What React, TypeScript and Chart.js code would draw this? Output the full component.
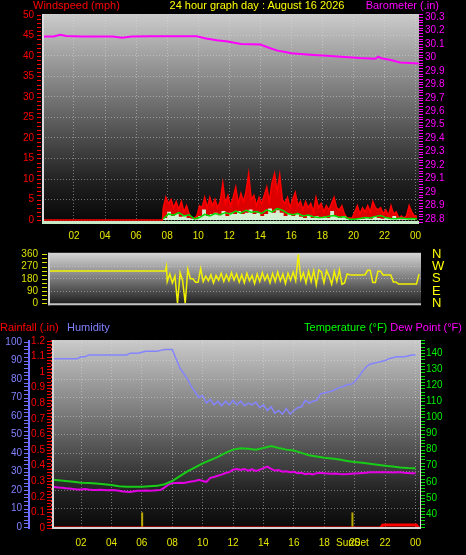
import React, { useEffect, useRef } from 'react';
import { Chart, registerables } from 'chart.js';
Chart.register(...registerables);

const FONT = '"Liberation Sans", Arial, sans-serif';
const GRID = 'rgba(225,225,225,0.45)';

// ---------- shared time axis ----------
const hourTickValues = [2, 4, 6, 8, 10, 12, 14, 16, 18, 20, 22, 24];
const hourTickLabels = ['02', '04', '06', '08', '10', '12', '14', '16', '18', '20', '22', '00'];
const sunriseHour = 6.02;
const sunsetHour = 19.85;
const sunsetLabel = 'SunSet';

// ---------- panel 1 : wind speed / barometer ----------
const windTicks = [0, 5, 10, 15, 20, 25, 30, 35, 40, 45, 50];
const baroTicks = [28.8, 28.9, 29.0, 29.1, 29.2, 29.3, 29.4, 29.5, 29.6, 29.7, 29.8, 29.9, 30.0, 30.1, 30.2, 30.3];
const baroHours = [0, 0.7, 1.1, 1.5, 2.5, 4.5, 5.1, 5.7, 7, 8.5, 9.9, 10.5, 11.2, 11.9, 12.75, 14, 14.6, 15.1, 15.6, 16, 17.2, 18.5, 19.2, 20.4, 21.4, 21.6, 21.8, 22.4, 23, 23.6, 24.2];
const baroValues = [30.155, 30.155, 30.168, 30.158, 30.155, 30.155, 30.145, 30.155, 30.157, 30.157, 30.156, 30.14, 30.127, 30.117, 30.1, 30.095, 30.07, 30.05, 30.04, 30.03, 30.02, 30.01, 30.005, 29.995, 29.99, 30.005, 29.993, 29.98, 29.962, 29.958, 29.955];

const gustCalmHours = [0, 7.7];
const gustCalmValues = [0, 0];
const gustStartHour = 7.75;
const gustStepHours = 1 / 6;
const gustValues = [
  3, 5.5, 4, 5, 3, 4.5, 2.5, 4.5, 2, 3.5,
  1.5, 0.5, 0.5, 1, 3.5, 3, 5.5, 3, 5.5, 3.5,
  5, 3, 4.5, 9, 4, 6, 3.5, 5.5, 8, 4,
  6.5, 4.5, 7, 11.3, 5, 6, 3.5, 5.5, 4, 6,
  8, 4.5, 9, 11.3, 7, 11, 5, 4, 5.5, 3,
  5, 6.7, 3.5, 4.5, 2.5, 4.5, 3, 4, 2, 5.5,
  3, 4, 2, 3.5, 2.5, 4, 5.5, 3, 2.5, 3.5,
  1.5, 0.5, 0.5, 0.5, 2, 3.5, 1.5, 3, 2, 3.5,
  2, 4.5, 3, 2.5, 3, 1.5, 2.5, 1, 3.5, 1.5,
  2, 0.5, 1, 0.5, 1, 3.5, 2, 1, 1,
];

const avgWindStartHour = 7.75;
const avgWindStepHours = 1 / 3;
const avgWindValues = [
  0.3, 1.5, 1.2, 1.8, 1.0, 1.3, 0.3, 0.6, 1.4, 1.0,
  1.6, 1.3, 1.8, 1.5, 2.2, 1.7, 2.4, 1.9, 2.1, 1.6,
  2.5, 2.0, 2.8, 2.4, 1.6, 1.3, 1.6, 1.0, 1.2, 0.8,
  0.6, 0.7, 0.9, 1.1, 0.7, 0.8, 0.2, 0.2, 0.4, 0.6,
  0.5, 0.9, 1.1, 0.6, 0.4, 0.3, 0.5, 0.3, 0.4, 0.3,
];

const windSpeedStartHour = 7.75;
const windSpeedStepHours = 0.25;
const windSpeedValues = [
  0.5, 2.0, 1.0, 1.5, 0.8, 1.2, 0.5, 0.3, 0.2, 1.0,
  2.6, 1.0, 1.5, 1.8, 1.2, 2.2, 1.0, 1.8, 1.5, 2.2,
  1.5, 1.8, 2.6, 1.5, 1.8, 1.0, 1.5, 2.8, 1.8, 2.4,
  1.8, 1.0, 1.5, 1.0, 1.5, 0.8, 0.5, 1.0, 0.5, 1.0,
  0.5, 0.8, 0.5, 2.2, 1.0, 0.5, 1.0, 0.3, 0.2, 0.2,
  0.5, 0.3, 0.5, 0.3, 0.8, 0.5, 0.3, 0.5, 0.3, 1.0,
  0.3, 0.2, 0.3, 0.2, 0.3, 0.3,
];

// ---------- panel 2 : wind direction ----------
const dirTicks = [0, 90, 180, 270, 360];
const compassLabels = ['N', 'E', 'S', 'W', 'N'];
const dirCalmHours = [0, 7.55, 7.62];
const dirCalmValues = [237, 237, 270];
const dirStartHour = 7.67;
const dirStepHours = 1 / 6;
const dirValues = [
  160, 215, 150, 200, 0, 225, 165, 0, 250, 180,
  180, 155, 155, 255, 160, 200, 165, 210, 150, 205,
  170, 220, 160, 210, 165, 225, 170, 215, 155, 210,
  150, 220, 165, 205, 145, 215, 160, 225, 170, 210,
  150, 220, 160, 230, 165, 215, 145, 220, 170, 230,
  165, 360, 175, 225, 150, 235, 160, 240, 135, 245,
  230, 150, 240, 200, 140, 235, 160, 245, 140, 150,
  215, 210, 208, 208, 208, 208, 208, 210, 242, 242,
  152, 152, 236, 236, 208, 208, 208, 208, 157, 157,
  141, 141, 141, 141, 141, 141, 141, 141, 214,
];

// ---------- panel 3 : rain / humidity / temperature / dew point ----------
const humidityTicks = [0, 10, 20, 30, 40, 50, 60, 70, 80, 90, 100];
const rainTicks = [0, 0.1, 0.2, 0.3, 0.4, 0.5, 0.6, 0.7, 0.8, 0.9, 1.0, 1.1, 1.2];
const tempTicks = [40, 50, 60, 70, 80, 90, 100, 110, 120, 130, 140];

const humidityStepHours = 0.25;
const humidityValues = [
  91, 91, 91, 91, 91, 91, 91, 91,
  92, 92, 93, 93, 93, 93, 93, 93, 93, 93, 93, 93, 93,
  94, 94, 94, 94.5, 95, 95, 95, 95, 95.5, 96, 96,
  96, 91, 86, 83, 80, 76, 73, 70, 71, 67, 69, 66, 68, 65.5, 68, 66, 68.5, 66, 68, 65.5,
  67, 66, 67.5, 64.5, 66, 63, 65, 61.5, 63, 61, 64, 61, 63, 64.5, 65, 68.5, 67, 68, 68.5,
  72, 72.5, 73, 73.5, 74.5, 75.5, 76, 77, 77, 78.5, 81, 84, 86.5, 88, 88.5, 89, 89.5,
  90, 91, 91.5, 92, 92, 92, 92.5, 93, 93,
];

const tempStepHours = 0.5;
const tempValues = [
  61.3, 61, 60.5, 60, 59.5, 59.3, 59, 58.5, 58, 57.3,
  57, 57, 57, 57.2, 57.5, 58.5, 60.5, 63.5, 66.5, 69,
  71.5, 73.5, 75.5, 78, 80, 80.8, 80.5, 80, 81, 82.2,
  81, 80, 79.5, 78, 76.5, 75.7, 75, 74.5, 73.8, 73,
  72.3, 71.8, 71.2, 70.6, 70, 69.5, 68.9, 68.6, 68.5,
];

const dewStepHours = 0.25;
const dewValues = [
  57.0, 56.8, 56.5, 56.3, 56, 55.8, 55.5, 55.3,
  55.3, 55.5, 55.2, 55, 55, 55.1, 55, 54.8,
  54.9, 54.8, 54.5, 54, 53.8, 53.7, 54.2, 54.5,
  54.5, 54.6, 54.5, 54.6, 54.8, 55, 56.5, 58.3,
  59.2, 59.3, 59.4, 59.3, 59.8, 60.2, 60.5, 61.3,
  60.5, 60, 62.5, 63, 63.8, 64.5, 65.5, 66,
  67.5, 68, 67.3, 68, 67, 67.8, 66.8, 67.6,
  68.5, 69.5, 68, 67, 67.3, 66.3, 66.6, 65.9,
  66.2, 65.3, 65.6, 64.8, 65.2, 64.6, 65.4, 65.7,
  65.4, 65.2, 65.0, 65.1, 64.8, 64.7, 64.8, 65.0,
  65.2, 65.3, 65.5, 65.7, 65.9, 66, 66, 65.9,
  65.9, 66, 65.8, 65.9, 65.9, 65.6, 65.5, 65.4,
  65.3,
];

const rainHours = [0, 21.7, 21.85, 24.05, 24.2];
const rainValues = [0, 0, 0.02, 0.02, 0];
const sunMarkerRain = [0, 0.1];

// ---------- helpers ----------
const series = (start: number, step: number, values: number[]) =>
  values.map((y, i) => ({ x: start + i * step, y }));
const pairs = (xs: number[], ys: number[]) => xs.map((x, i) => ({ x, y: ys[i] }));
const fmt = (v: number) => String(Number(Number(v).toFixed(2)));
const font = (size: number) => ({ family: FONT, size });
const setTicks = (vals: number[]) => (s: any) => {
  s.ticks = vals.map((v) => ({ value: v }));
};
const hourLabel = (v: number) => {
  if (v === sunsetHour) return sunsetLabel;
  const i = hourTickValues.indexOf(v);
  return i >= 0 ? hourTickLabels[i] : '';
};
const NOGRID = { display: false, drawTicks: false };

const panelPlugin = {
  id: 'panel',
  beforeDraw(chart: any, _a: any, opts: any) {
    const { ctx, chartArea: a } = chart;
    if (!a) return;
    const g = ctx.createLinearGradient(0, a.top, 0, a.bottom);
    (opts.stops || []).forEach((s: [number, string]) => g.addColorStop(s[0], s[1]));
    ctx.save();
    ctx.fillStyle = g;
    ctx.fillRect(a.left, a.top, a.right - a.left, a.bottom - a.top);
    ctx.restore();
  },
  afterDraw(chart: any, _a: any, opts: any) {
    const { ctx, chartArea: a } = chart;
    ctx.save();
    (opts.edges || []).forEach((e: any) => {
      ctx.strokeStyle = e.color;
      ctx.lineWidth = e.width;
      ctx.setLineDash([]);
      const h = e.width / 2;
      ctx.beginPath();
      if (e.side === 'left') { ctx.moveTo(a.left + h, a.top); ctx.lineTo(a.left + h, a.bottom); }
      if (e.side === 'right') { ctx.moveTo(a.right - h, a.top); ctx.lineTo(a.right - h, a.bottom); }
      if (e.side === 'bottom') { ctx.moveTo(a.left, a.bottom - h); ctx.lineTo(a.right, a.bottom - h); }
      ctx.stroke();
    });
    (opts.axisLines || []).forEach((l: any) => {
      const s = chart.scales[l.scale];
      const x = s.position === 'left' ? s.right - l.width / 2 - (l.offset || 0) : s.left + l.width / 2 + (l.offset || 0);
      ctx.strokeStyle = l.color;
      ctx.lineWidth = l.width;
      ctx.setLineDash(l.dash || []);
      ctx.beginPath();
      ctx.moveTo(x, a.top);
      ctx.lineTo(x, a.bottom);
      ctx.stroke();
      ctx.setLineDash([]);
    });
    (opts.minorTicks || []).forEach((m: any) => {
      const s = chart.scales[m.scale];
      ctx.strokeStyle = m.color;
      ctx.lineWidth = 1;
      const k0 = Math.ceil(s.min / m.step - 1e-6);
      const k1 = Math.floor(s.max / m.step + 1e-6);
      ctx.beginPath();
      for (let k = k0; k <= k1; k++) {
        const y = Math.round(s.getPixelForValue(k * m.step)) + 0.5;
        const x0 = s.position === 'left' ? s.right - m.offset - m.len : s.left + m.offset;
        ctx.moveTo(x0, y);
        ctx.lineTo(x0 + m.len, y);
      }
      ctx.stroke();
    });
    ctx.restore();
  },
};

const baseOpts = {
  responsive: false,
  maintainAspectRatio: false,
  animation: false as const,
  events: [] as any[],
};

function useChart(ref: React.RefObject<HTMLCanvasElement>, make: () => any) {
  useEffect(() => {
    if (!ref.current) return;
    const chart = new Chart(ref.current, make());
    return () => chart.destroy();
  }, []);
}

export default function App() {
  const c1 = useRef<HTMLCanvasElement>(null);
  const c2 = useRef<HTMLCanvasElement>(null);
  const c3 = useRef<HTMLCanvasElement>(null);

  useChart(c1, () => ({
    type: 'line',
    data: {
      datasets: [
        { label: 'Average', data: series(avgWindStartHour, avgWindStepHours, avgWindValues), borderColor: '#00dd00', borderWidth: 1.5, pointRadius: 0, yAxisID: 'y' },
        { label: 'Wind', data: [{ x: 0, y: 0 }, ...series(windSpeedStartHour, windSpeedStepHours, windSpeedValues)], stepped: true, fill: 'origin', backgroundColor: '#d2f0d2', borderColor: 'rgba(0,0,0,0)', borderWidth: 0, pointRadius: 0, yAxisID: 'y' },
        { label: 'Gust', data: [...pairs(gustCalmHours, gustCalmValues), ...series(gustStartHour, gustStepHours, gustValues)], fill: 'origin', backgroundColor: '#dd0000', borderColor: '#ff0000', borderWidth: 1.5, pointRadius: 0, yAxisID: 'y' },
        { label: 'Barometer', data: pairs(baroHours, baroValues), borderColor: '#ff00ff', borderWidth: 2, pointRadius: 0, yAxisID: 'yB' },
      ],
    },
    options: {
      ...baseOpts,
      layout: { padding: { top: 11, left: 0, right: 0, bottom: 0 } },
      plugins: {
        legend: { display: false },
        tooltip: { enabled: false },
        panel: {
          stops: [[0, '#cbcbcb'], [0.45, '#6a6a6a'], [0.8, '#202020'], [1, '#060606']],
          edges: [
            { side: 'left', color: '#dcdcdc', width: 2 },
            { side: 'bottom', color: '#c6eac6', width: 3 },
          ],
          minorTicks: [
            { scale: 'y', step: 1, len: 4, offset: 1, color: '#ff0000' },
            { scale: 'yB', step: 0.02, len: 4, offset: 0, color: '#ff00ff' },
          ],
        },
      },
      scales: {
        x: {
          type: 'linear', min: -0.06, max: 24.22,
          afterBuildTicks: setTicks(hourTickValues),
          afterFit: (s: any) => { s.height = 21; },
          ticks: { autoSkip: false, maxRotation: 0, minRotation: 0, color: '#e6e600', font: font(10), padding: 6, callback: (v: any) => hourLabel(v) },
          grid: { color: GRID, drawTicks: false },
          border: { display: false, dash: [1, 2] },
        },
        y: {
          position: 'left', min: -0.96, max: 50.2,
          afterBuildTicks: setTicks(windTicks),
          afterFit: (s: any) => { s.width = 42; },
          ticks: { autoSkip: false, color: '#ff0000', font: font(10), padding: 8, callback: (v: any) => fmt(v) },
          grid: { color: GRID, drawTicks: false },
          border: { display: false, dash: [1, 2] },
        },
        yB: {
          position: 'right', min: 28.763, max: 30.322,
          afterBuildTicks: setTicks(baroTicks),
          afterFit: (s: any) => { s.width = 47; },
          ticks: { autoSkip: false, color: '#ff00ff', font: font(10), padding: 6, callback: (v: any) => fmt(v) },
          grid: NOGRID,
          border: { display: false },
        },
      },
    },
    plugins: [panelPlugin],
  }));

  useChart(c2, () => ({
    type: 'line',
    data: {
      datasets: [
        { label: 'Direction', data: [...pairs(dirCalmHours, dirCalmValues), ...series(dirStartHour, dirStepHours, dirValues)], borderColor: '#f2f200', borderWidth: 1.5, pointRadius: 0, yAxisID: 'y' },
      ],
    },
    options: {
      ...baseOpts,
      layout: { padding: { top: 10, left: 0, right: 0, bottom: 11 } },
      plugins: {
        legend: { display: false },
        tooltip: { enabled: false },
        panel: {
          stops: [[0, '#d6d6d6'], [0.5, '#7a7a7a'], [1, '#1a1a1a']],
          edges: [
            { side: 'left', color: '#d0d0d0', width: 2 },
            { side: 'bottom', color: '#c4c4c4', width: 2 },
          ],
          minorTicks: [{ scale: 'y', step: 30, len: 5, offset: 1, color: '#d8e000' }],
        },
      },
      scales: {
        x: { type: 'linear', display: false, min: -0.065, max: 24.13 },
        y: {
          position: 'left', min: -14, max: 371,
          afterBuildTicks: setTicks(dirTicks),
          afterFit: (s: any) => { s.width = 48; },
          ticks: { autoSkip: false, color: '#d8e000', font: font(10), padding: 10, callback: (v: any) => fmt(v) },
          grid: { color: (c: any) => (c.tick && c.tick.value > 0 && c.tick.value < 360 ? GRID : 'rgba(0,0,0,0)'), drawTicks: false },
          border: { display: false, dash: [1, 2] },
        },
        yC: {
          position: 'right', min: -14, max: 371,
          afterBuildTicks: setTicks(dirTicks),
          afterFit: (s: any) => { s.width = 45; },
          ticks: { autoSkip: false, color: '#ffff00', font: font(13), padding: 11, callback: (v: any) => compassLabels[dirTicks.indexOf(v)] },
          grid: NOGRID,
          border: { display: false },
        },
      },
    },
    plugins: [panelPlugin],
  }));

  useChart(c3, () => ({
    type: 'line',
    data: {
      datasets: [
        { label: 'Rainfall', data: pairs(rainHours, rainValues), borderColor: '#ff0000', borderWidth: 3, pointRadius: 0, yAxisID: 'yR' },
        { label: 'Sunrise', data: pairs([sunriseHour, sunriseHour], sunMarkerRain), borderColor: '#b8a800', borderWidth: 2, pointRadius: 0, yAxisID: 'yR' },
        { label: 'Sunset', data: pairs([sunsetHour, sunsetHour], sunMarkerRain), borderColor: '#b8a800', borderWidth: 2, pointRadius: 0, yAxisID: 'yR' },
        { label: 'Humidity', data: series(0, humidityStepHours, humidityValues), borderColor: '#8484ff', borderWidth: 1.5, pointRadius: 0, yAxisID: 'yH' },
        { label: 'Temperature', data: series(0, tempStepHours, tempValues), borderColor: '#18cc18', borderWidth: 2, pointRadius: 0, yAxisID: 'yT' },
        { label: 'Dew Point', data: series(0, dewStepHours, dewValues), borderColor: '#e400e4', borderWidth: 2, pointRadius: 0, yAxisID: 'yT' },
      ],
    },
    options: {
      ...baseOpts,
      layout: { padding: { top: 20, left: 0, right: 0, bottom: 0 } },
      plugins: {
        legend: { display: false },
        tooltip: { enabled: false },
        panel: {
          stops: [[0, '#cacaca'], [0.45, '#6e6e6e'], [0.8, '#222222'], [1, '#080808']],
          edges: [
            { side: 'left', color: '#d4d4d4', width: 2 },
            { side: 'bottom', color: '#d4d4d4', width: 2 },
            { side: 'right', color: '#d4d4d4', width: 1 },
          ],
          axisLines: [
            { scale: 'yH', color: '#6a6aff', width: 2, offset: 0 },
            { scale: 'yR', color: '#ff2020', width: 1, offset: 0, dash: [2, 2] },
          ],
          minorTicks: [
            { scale: 'yH', step: 2, len: 4, offset: 2, color: '#7070ff' },
            { scale: 'yR', step: 0.02, len: 4, offset: 1, color: '#ff0000' },
            { scale: 'yT', step: 2, len: 4, offset: 0, color: '#00dd00' },
          ],
        },
      },
      scales: {
        x: {
          type: 'linear', min: 0.09, max: 24.36,
          afterBuildTicks: setTicks([...hourTickValues, sunsetHour].sort((a, b) => a - b)),
          afterFit: (s: any) => { s.height = 26; },
          ticks: { autoSkip: false, maxRotation: 0, minRotation: 0, color: '#e6e600', font: font(10), padding: 8, callback: (v: any) => hourLabel(v) },
          grid: { color: (c: any) => (c.tick && c.tick.value === sunsetHour ? 'rgba(0,0,0,0)' : GRID), drawTicks: false },
          border: { display: false, dash: [1, 2] },
        },
        yH: {
          position: 'left', weight: 2, min: -1.08, max: 101.1,
          afterBuildTicks: setTicks(humidityTicks),
          afterFit: (s: any) => { s.width = 30; },
          ticks: { autoSkip: false, color: '#8080ff', font: font(10), padding: 8, callback: (v: any) => fmt(v) },
          grid: { color: GRID, drawTicks: false },
          border: { display: false, dash: [1, 2] },
        },
        yR: {
          position: 'left', weight: 1, min: -0.0064, max: 1.2064,
          afterBuildTicks: setTicks(rainTicks),
          afterFit: (s: any) => { s.width = 22; },
          ticks: { autoSkip: false, color: '#ff0000', font: font(10), padding: 7, callback: (v: any) => fmt(v) },
          grid: NOGRID,
          border: { display: false },
        },
        yT: {
          position: 'right', min: 30.7, max: 148.1,
          afterBuildTicks: setTicks(tempTicks),
          afterFit: (s: any) => { s.width = 45; },
          ticks: { autoSkip: false, color: '#00ee00', font: font(10), padding: 5, callback: (v: any) => fmt(v) },
          grid: NOGRID,
          border: { display: false },
        },
      },
    },
    plugins: [panelPlugin],
  }));

  const txt = (extra: React.CSSProperties): React.CSSProperties => ({
    position: 'absolute',
    fontFamily: FONT,
    fontSize: 11,
    lineHeight: '11px',
    whiteSpace: 'nowrap',
    zIndex: 2,
    ...extra,
  });

  return (
    <div style={{ position: 'fixed', left: 0, top: 0, width: 466, height: 555, background: '#000', overflow: 'hidden' }}>
      <canvas ref={c1} width={466} height={245} style={{ position: 'absolute', left: 0, top: 0, width: 466, height: 245 }} />
      <canvas ref={c2} width={466} height={90} style={{ position: 'absolute', left: 0, top: 234, width: 466, height: 90 }} />
      <canvas ref={c3} width={466} height={235} style={{ position: 'absolute', left: 0, top: 320, width: 466, height: 235 }} />
      <div style={txt({ left: 33, top: 0, color: '#ff0000' })}>Windspeed (mph)</div>
      <div style={txt({ left: 57, width: 400, top: 0, color: '#ffff00', textAlign: 'center' })}>24 hour graph day : August 16 2026</div>
      <div style={txt({ right: 27, top: 0, color: '#ff00ff' })}>Barometer (.in)</div>
      <div style={txt({ left: 0, top: 322, color: '#ff0000' })}>Rainfall (.in)</div>
      <div style={txt({ left: 67, top: 322, color: '#8080ff' })}>Humidity</div>
      <div style={txt({ right: 4, top: 322 })}>
        <span style={{ color: '#00ff00' }}>Temperature (°F)</span>{' '}
        <span style={{ color: '#ff00ff' }}>Dew Point (°F)</span>
      </div>
    </div>
  );
}
